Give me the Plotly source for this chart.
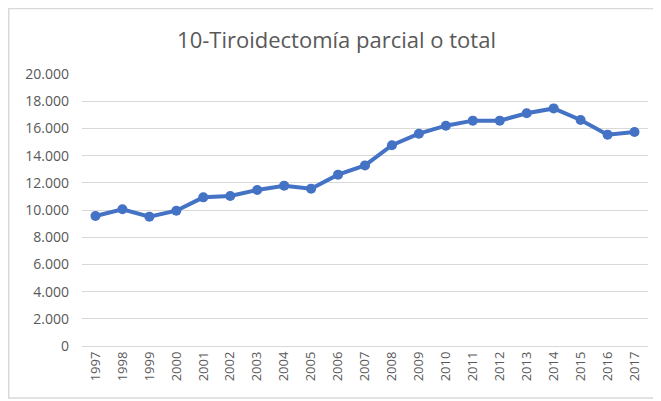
import plotly.graph_objects as go

years = [str(y) for y in range(1997, 2018)]
cases = [9560, 10050, 9510, 9950, 10930, 11030, 11470, 11790, 11570, 12600,
         13280, 14760, 15610, 16200, 16570, 16570, 17110, 17470, 16620, 15540, 15740]

y_ticks = list(range(0, 20001, 2000))

fig = go.Figure()
fig.add_trace(go.Scatter(
    x=years, y=cases, mode='lines+markers',
    line=dict(color='#4472C4', width=4),
    marker=dict(color='#4472C4', size=10),
    showlegend=False,
))

# chart border (Excel style), right edge falls outside the window
fig.add_shape(type='rect', xref='paper', yref='paper',
              x0=-0.1294, x1=1.2, y0=-0.191, y1=1.2408,
              line=dict(color='#d9d9d9', width=1.5), layer='below')

fig.update_layout(
    width=661, height=401,
    margin=dict(l=74, r=21, t=66, b=63),
    paper_bgcolor='white', plot_bgcolor='white',
    separators=',.',
    font=dict(family='Open Sans, Liberation Sans, sans-serif', color='#595959'),
    title=dict(text='10-Tiroidectomía parcial o total', x=0.497, xanchor='center',
               y=0.92, yanchor='middle', font=dict(size=22, color='#595959')),
    xaxis=dict(type='category', range=[-0.5, 20.5], tickangle=-90,
               tickfont=dict(size=13, color='#595959'), showgrid=False,
               showline=False, ticks='', ticklabelstandoff=2),
    yaxis=dict(range=[0, 20000], tickvals=y_ticks, tickformat=',d',
               tickfont=dict(size=14, color='#595959'), showgrid=True,
               gridcolor='#d9d9d9', gridwidth=1, zeroline=True,
               zerolinecolor='#d9d9d9', zerolinewidth=1, showline=False,
               ticks='', ticklabelstandoff=12),
)

fig.write_html("out.html")
